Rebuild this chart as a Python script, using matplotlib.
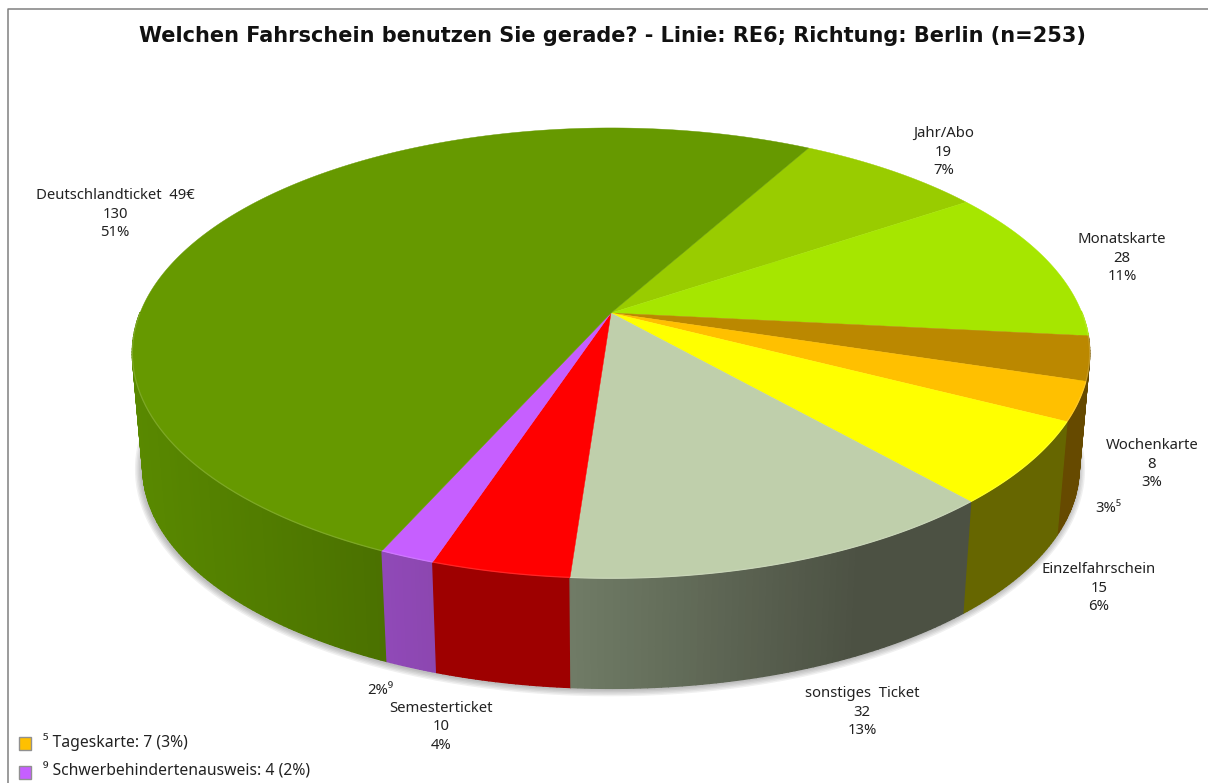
import matplotlib
matplotlib.use('Agg')
import matplotlib.pyplot as plt
from matplotlib.patches import Polygon, Rectangle
from matplotlib.colors import to_rgb
import numpy as np

plt.rcParams['font.family'] = ['Noto Sans', 'DejaVu Sans']

title = 'Welchen Fahrschein benutzen Sie gerade? - Linie: RE6; Richtung: Berlin (n=253)'

# clockwise, starting at the Jahr/Abo edge
tickets = ['Jahr/Abo', 'Monatskarte', 'Wochenkarte', 'Tageskarte', 'Einzelfahrschein',
           'sonstiges  Ticket', 'Semesterticket', 'Schwerbehindertenausweis', 'Deutschlandticket  49€']
counts = [19, 28, 8, 7, 15, 32, 10, 4, 130]
percents = [7, 11, 3, 3, 6, 13, 4, 2, 51]
colors = ['#99CC00', '#A6E600', '#BB8800', '#FFC000', '#FFFF00',
          '#BFCFAB', '#FF0000', '#C65FFF', '#669900']
side_left = ['#99CC00', '#A6E600', '#664A00', '#664A00', '#666600',
             '#707C66', '#9E0000', '#9049B8', '#598900']
side_right = ['#99CC00', '#A6E600', '#664A00', '#664A00', '#666600',
              '#4C5143', '#9E0000', '#8C47B0', '#4A7000']
grad_end = [1, 1, 1, 1, 1, 0.72, 1, 1, 0.38]

# label positions in pixels, None = footnote only
label_pos = [(943.5, 152), (1122, 258), (1152, 464), None, (1099, 588),
             (862, 712), (441, 727), None, (115, 214)]
start_angle = 61

# pie geometry, perspective ellipse
cx, cy, cy_low = 611, 313, 429
a, b, k = 218, 471, 0.178
low_scale = 0.978


def project(t, low=False):
    u, v = np.cos(t), np.sin(t)
    w = 1 + k * v
    x, y = b * u / w, a * v / w
    if low:
        return cx + low_scale * x, cy_low - low_scale * y
    return cx + x, cy - y


def mix(c1, c2, f):
    c1, c2 = np.array(to_rgb(c1)), np.array(to_rgb(c2))
    return tuple(c1 + (c2 - c1) * f)


fig = plt.figure(figsize=(12.08, 7.83), dpi=100)
ax = fig.add_axes([0, 0, 1, 1])
ax.set_xlim(0, 1208)
ax.set_ylim(783, 0)
ax.axis('off')

# frame
ax.plot([7.5, 7.5, 1208], [783, 8.5, 8.5], color='#808080', lw=1.1)

ax.text(612, 36, title, ha='center', va='center', fontsize=15.0, fontweight='bold',
        family='DejaVu Sans', color='#111111')

edges = np.radians(start_angle - np.cumsum([0] + counts) / sum(counts) * 360)

# soft shadow under the lower edge
tt = np.linspace(0, 2 * np.pi, 400)
lx, ly = project(tt, low=True)
for lw in [10, 8, 6, 4, 2]:
    ax.plot(lx - 1, ly + 1, color='#404040', alpha=0.08, lw=lw, zorder=0.5)

# side walls, only the front part can be seen
quads = []
for i in range(len(counts)):
    ts = np.linspace(edges[i], edges[i + 1], max(counts[i] * 2, 12) + 1)
    x0, x1 = project(ts)[0].min(), project(ts)[0].max()
    for j in range(len(ts) - 1):
        if np.sin(ts[j]) > 0.0 and np.sin(ts[j + 1]) > 0.0:
            continue
        xa, ya = project(ts[j])
        xb, yb = project(ts[j + 1])
        xc, yc = project(ts[j + 1], low=True)
        xd, yd = project(ts[j], low=True)
        f = min(((xa + xb) / 2 - x0) / (x1 - x0) / grad_end[i], 1)
        quads.append((ya + yb, [(xa, ya), (xb, yb), (xc, yc), (xd, yd)], mix(side_left[i], side_right[i], f)))
quads.sort(key=lambda q: q[0])
for _, pts, col in quads:
    ax.add_patch(Polygon(pts, closed=True, facecolor=col, edgecolor=col, lw=1.0, zorder=1))

# top faces
for i in range(len(counts)):
    ts = np.linspace(edges[i], edges[i + 1], max(counts[i] * 3, 12) + 1)
    xs, ys = project(ts)
    pts = [(cx, cy)] + list(zip(xs, ys))
    ax.add_patch(Polygon(pts, closed=True, facecolor=colors[i], edgecolor=colors[i], lw=0.3, zorder=2))
    # thin light rim on the front side only
    front = np.sin(ts) < 0.0
    if front.any():
        ax.plot(xs[front], ys[front], color=mix(colors[i], '#FFFFFF', 0.15), lw=0.9,
                solid_capstyle='butt', zorder=2.5)

# labels
for i in range(len(counts)):
    if label_pos[i] is None:
        continue
    ax.text(label_pos[i][0], label_pos[i][1], f'{tickets[i]}\n{counts[i]}\n{percents[i]}%',
            ha='center', va='center', fontsize=10.7, color='#222222', linespacing=1.36)

ax.text(1108, 508, f'{percents[3]}%⁵', ha='center', va='center', fontsize=10.7, color='#222222')
ax.text(380, 690, f'{percents[7]}%⁹', ha='center', va='center', fontsize=10.7, color='#222222')

# footnotes
for idx, mark, ypos in [(3, '⁵', 743), (7, '⁹', 772)]:
    ax.add_patch(Rectangle((19, ypos - 6), 12, 13, facecolor=colors[idx], edgecolor='#909090', lw=1))
    ax.text(43, ypos - 1, f'{mark} {tickets[idx]}: {counts[idx]} ({percents[idx]}%)',
            ha='left', va='center', fontsize=11.3, color='#222222')

fig.savefig('out.png', dpi=100)
